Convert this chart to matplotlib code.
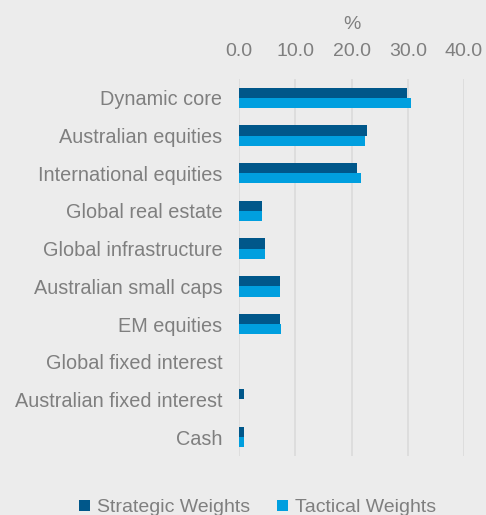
import matplotlib.pyplot as plt
import numpy as np

plt.rcParams['font.family'] = ['Liberation Sans', 'DejaVu Sans']

# data
categories = ['Dynamic core', 'Australian equities', 'International equities',
              'Global real estate', 'Global infrastructure', 'Australian small caps',
              'EM equities', 'Global fixed interest', 'Australian fixed interest', 'Cash']
strategic = [29.8, 22.8, 21.0, 4.0, 4.7, 7.2, 7.2, 0.0, 0.8, 0.8]
tactical = [30.6, 22.4, 21.7, 4.0, 4.7, 7.2, 7.5, 0.0, 0.0, 0.8]
ticks = [0, 10, 20, 30, 40]

bg = '#ECECEC'
grey = '#7F7F7F'

fig = plt.figure(figsize=(4.86, 5.15), dpi=100, facecolor=bg)
ax = fig.add_axes([0.4918, 0.1146, 0.463, 0.732], facecolor=bg)

y = np.arange(len(categories))
h = 0.27
ax.barh(y - h / 2, strategic, height=h, color='#00578A',
        label='Strategic Weights', zorder=3)
ax.barh(y + h / 2, tactical, height=h, color='#009FDF',
        label='Tactical Weights', zorder=3)

ax.set_xlim(0, 40)
ax.set_ylim(len(categories) - 0.5, -0.5)
ax.set_xticks(ticks)
ax.set_xticklabels([f'{t:.1f}' for t in ticks])
ax.set_yticks(y)
ax.set_yticklabels(categories)
ax.xaxis.tick_top()
ax.xaxis.set_label_position('top')
ax.set_xlabel('%', fontsize=14, color=grey, labelpad=10)
ax.tick_params(axis='x', length=0, labelsize=14, labelcolor=grey, pad=14)
ax.tick_params(axis='y', length=0, labelsize=14.3, labelcolor=grey, pad=12)
ax.grid(axis='x', color='#DCDCDC', linewidth=1.3, zorder=0)
for s in ax.spines.values():
    s.set_visible(False)

fig.legend(loc='center', bbox_to_anchor=(0.53, 0.014), ncol=2, frameon=False,
           fontsize=14, labelcolor=grey, handlelength=0.55, handleheight=0.55,
           handletextpad=0.35, columnspacing=1.4)

fig.savefig('out.png', dpi=100, facecolor=bg)
